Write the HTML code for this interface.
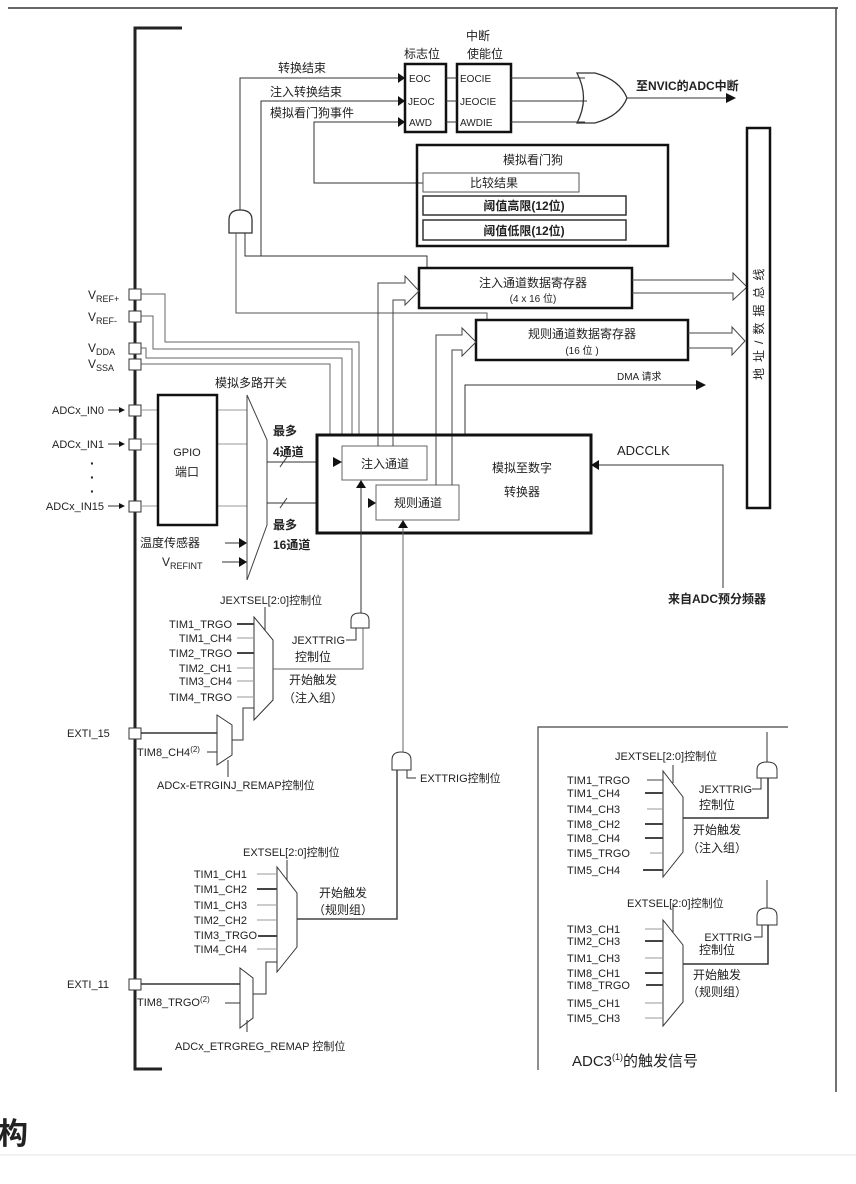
<!DOCTYPE html>
<html><head><meta charset="utf-8"><style>
html,body{margin:0;padding:0;background:#fff;width:856px;height:1184px;overflow:hidden}
svg{display:block}
text{font-family:"Liberation Sans","Noto Sans CJK SC",sans-serif;fill:#222}
</style></head><body>
<svg width="856" height="1184" viewBox="0 0 856 1184" xmlns="http://www.w3.org/2000/svg">
<g fill="none" stroke="#333" stroke-width="1">
<line x1="8" y1="8" x2="838" y2="8" stroke="#666" stroke-width="2"/>
<line x1="836" y1="8" x2="836" y2="1092" stroke="#444" stroke-width="1.5"/>
<polyline points="182,28 135,28 135,1069 162,1069" stroke="#222" stroke-width="3"/>
<polyline points="788,727 538,727 538,1070" stroke="#444" stroke-width="1.2"/>

<rect x="405" y="64" width="41" height="68" stroke-width="2.5" stroke="#111"/>
<rect x="457" y="64" width="54" height="68" stroke-width="2.5" stroke="#111"/>
<line x1="446" y1="78" x2="457" y2="78"/><line x1="446" y1="101" x2="457" y2="101"/><line x1="446" y1="122" x2="457" y2="122"/>
<line x1="511" y1="78" x2="585" y2="78"/><line x1="511" y1="101" x2="587" y2="101"/><line x1="511" y1="122" x2="585" y2="122"/>
<path d="M577,73 L595,73 Q620,80 627,98 Q620,116 595,123 L577,123 Q590,98 577,73 Z" stroke-width="1.3"/>
<line x1="627" y1="98" x2="728" y2="98"/>
<polyline points="240,210 240,78 398,78"/>
<polyline points="261,256 261,101 398,101"/>
<polyline points="423,183 314,183 314,122 398,122"/>
<path d="M229,233 L229,220 Q229,210 240,210 Q252,210 252,220 L252,233 Z" stroke-width="1.3"/>
<polyline points="245,233 245,256 427,256 427,268"/>
<polyline points="236,233 236,313 487,313 487,320" stroke="#555"/>
<rect x="417" y="145" width="251" height="101" stroke-width="2.5" stroke="#111"/>
<rect x="423" y="173" width="156" height="19" stroke="#555"/>
<rect x="423" y="196" width="203" height="19" stroke-width="1.5" stroke="#333"/>
<rect x="423" y="220" width="203" height="20" stroke-width="1.5" stroke="#333"/>

<rect x="419" y="268" width="213" height="40" stroke-width="2.5" stroke="#111"/>
<rect x="476" y="320" width="212" height="40" stroke-width="2.5" stroke="#111"/>
<polyline points="378,435 378,283 405,283 405,276 419,291 405,305 405,300 393,300 393,435" stroke="#444"/>
<polyline points="436,485 436,335 462,335 462,328 476,342 462,356 462,350 452,350 452,485" stroke="#444"/>
<polyline points="632,280 733,280 733,273 747,287 733,300 733,293 632,293" stroke="#444"/>
<polyline points="688,333 732,333 732,327 745,341 732,355 732,348 688,348" stroke="#444"/>
<polyline points="465,435 465,385 698,385"/>
<rect x="747" y="128" width="23" height="380" stroke-width="2.5" stroke="#111"/>

<g fill="#fff" stroke="#333">
<rect x="129" y="289" width="12" height="11"/><rect x="129" y="311" width="12" height="11"/>
<rect x="129" y="343" width="12" height="11"/><rect x="129" y="359" width="12" height="11"/>
<rect x="129" y="405" width="12" height="11"/><rect x="129" y="439" width="12" height="11"/>
<rect x="129" y="501" width="12" height="11"/>
<rect x="129" y="728" width="12" height="11"/><rect x="129" y="979" width="12" height="11"/>
</g>
<g stroke="#666">
<polyline points="141,294 165,294 165,342 359,342 359,435"/>
<polyline points="141,316 153,316 153,349 352,349 352,435"/>
<polyline points="141,348 146,348 146,358 342,358 342,435"/>
<polyline points="141,364 330,364 330,435"/>
</g>
<g stroke="#999">
<line x1="141" y1="410" x2="158" y2="410"/><line x1="141" y1="444" x2="158" y2="444"/><line x1="141" y1="506" x2="158" y2="506"/>
<line x1="217" y1="410" x2="247" y2="410"/><line x1="217" y1="444" x2="247" y2="444"/><line x1="217" y1="506" x2="247" y2="506"/>
</g>
<line x1="108" y1="410" x2="124" y2="410"/><line x1="108" y1="444" x2="124" y2="444"/><line x1="108" y1="506" x2="124" y2="506"/>
<rect x="158" y="395" width="59" height="130" stroke-width="2.5" stroke="#111"/>
<polygon points="247,395 267,440 267,525 247,580" stroke="#444"/>
<line x1="225" y1="543" x2="240" y2="543"/><line x1="222" y1="562" x2="240" y2="562"/>
<line x1="267" y1="462" x2="334" y2="462"/><line x1="280" y1="467" x2="287" y2="457"/>
<line x1="267" y1="503" x2="369" y2="503"/><line x1="280" y1="508" x2="287" y2="498"/>
<rect x="317" y="435" width="274" height="98" stroke-width="3" stroke="#111" fill="#fff"/>
<rect x="342" y="446" width="85" height="34" stroke="#666" fill="#fff"/>
<rect x="376" y="485" width="83" height="35" stroke="#666" fill="#fff"/>
<line x1="378" y1="436" x2="378" y2="446" stroke="#444"/><line x1="393" y1="436" x2="393" y2="446" stroke="#444"/>
<line x1="436" y1="436" x2="436" y2="485" stroke="#444"/><line x1="452" y1="436" x2="452" y2="485" stroke="#444"/>
<polyline points="598,465 723,465 723,588"/>

<polygon points="254,617 273,640 273,700 254,720"/>
<line x1="265" y1="630" x2="265" y2="607"/>
<g stroke="#444">
<line x1="237" y1="624" x2="254" y2="624" stroke-width="2"/><line x1="237" y1="638" x2="254" y2="638" stroke="#999"/>
<line x1="237" y1="653" x2="254" y2="653" stroke-width="2"/><line x1="237" y1="668" x2="254" y2="668" stroke="#999"/>
<line x1="237" y1="681" x2="254" y2="681" stroke="#999"/><line x1="237" y1="697" x2="254" y2="697" stroke="#999"/>
</g>
<polyline points="273,669 363,669 363,628" stroke="#666"/>
<path d="M351,628 L351,620 Q351,613 360,613 Q369,613 369,620 L369,628 Z"/>
<line x1="361" y1="613" x2="361" y2="486"/>
<polyline points="346,640 356,640 356,628"/>
<polygon points="217,715 232,725 232,755 217,765"/>
<line x1="141" y1="733" x2="217" y2="733" stroke-width="1.5"/>
<line x1="207" y1="752" x2="217" y2="752"/>
<polyline points="232,740 243,740 243,708 254,708"/>
<line x1="228" y1="760" x2="228" y2="777"/>
<path d="M392,770 L392,760 Q392,752 401,752 Q411,752 411,760 L411,770 Z"/>
<line x1="403" y1="752" x2="403" y2="526" stroke="#666"/>
<polyline points="407,770 407,778 416,778"/>
<polyline points="297,919 397,919 397,770" stroke="#444" stroke-width="1.5"/>
<polygon points="277,867 297,893 297,947 277,972"/>
<line x1="287" y1="880" x2="287" y2="860"/>
<g stroke="#444">
<line x1="257" y1="874" x2="277" y2="874" stroke="#999"/><line x1="257" y1="889" x2="277" y2="889" stroke-width="2"/>
<line x1="257" y1="905" x2="277" y2="905" stroke="#999"/><line x1="257" y1="920" x2="277" y2="920" stroke="#999"/>
<line x1="258" y1="936" x2="277" y2="936" stroke-width="2"/><line x1="257" y1="949" x2="277" y2="949" stroke="#999"/>
</g>
<polygon points="240,968 253,978 253,1018 240,1028"/>
<line x1="141" y1="984" x2="240" y2="984" stroke-width="1.5"/>
<line x1="225" y1="1003" x2="240" y2="1003"/>
<polyline points="253,994 266,994 266,962 277,962"/>
<line x1="247" y1="1020" x2="247" y2="1032"/>

<polygon points="663,771 683,797 683,852 663,877"/>
<line x1="673" y1="783" x2="673" y2="765"/>
<g stroke="#444">
<line x1="647" y1="780" x2="663" y2="780"/><line x1="645" y1="793" x2="663" y2="793" stroke-width="2"/>
<line x1="647" y1="809" x2="663" y2="809" stroke="#999"/><line x1="645" y1="824" x2="663" y2="824" stroke-width="2"/>
<line x1="645" y1="838" x2="663" y2="838" stroke-width="2"/><line x1="650" y1="853" x2="663" y2="853" stroke="#999"/>
<line x1="643" y1="870" x2="663" y2="870" stroke-width="2"/>
</g>
<polyline points="683,818 768,818 768,778" stroke-width="1.5"/>
<path d="M757,778 L757,770 Q757,762 767,762 Q777,762 777,770 L777,778 Z"/>
<line x1="767" y1="762" x2="767" y2="732"/>
<polyline points="752,789 761,789 761,778"/>
<polygon points="663,920 683,945 683,1002 663,1026"/>
<line x1="673" y1="932" x2="673" y2="903"/>
<g stroke="#444">
<line x1="645" y1="929" x2="663" y2="929" stroke="#999"/><line x1="645" y1="941" x2="663" y2="941" stroke-width="2"/>
<line x1="645" y1="958" x2="663" y2="958" stroke="#999"/><line x1="645" y1="973" x2="663" y2="973" stroke-width="2"/>
<line x1="646" y1="985" x2="663" y2="985" stroke-width="2"/><line x1="645" y1="1003" x2="663" y2="1003" stroke="#999"/>
<line x1="645" y1="1018" x2="663" y2="1018" stroke="#999"/>
</g>
<polyline points="683,964 768,964 768,925" stroke-width="1.5"/>
<path d="M757,925 L757,916 Q757,908 767,908 Q777,908 777,916 L777,925 Z"/>
<line x1="767" y1="908" x2="767" y2="880"/>
<polyline points="754,937 762,937 762,925"/>
<line x1="0" y1="1155" x2="856" y2="1155" stroke="#e4e4e4"/>
</g>

<g fill="#111">
<polygon points="398,73 405,78 398,83"/><polygon points="398,96 405,101 398,106"/><polygon points="398,117 405,122 398,127"/>
<polygon points="726,93 736,98 726,103"/>
<polygon points="696,380 706,385 696,390"/>
<polygon points="119,407 125,410 119,413"/><polygon points="119,441 125,444 119,447"/><polygon points="119,503 125,506 119,509"/>
<polygon points="239,538 247,543 239,548"/><polygon points="239,557 247,562 239,567"/>
<polygon points="333,457 342,462 333,467"/><polygon points="368,498 376,503 368,508"/>
<polygon points="356,488 361,480 366,488"/><polygon points="398,528 403,520 408,528"/>
<polygon points="599,460 591,465 599,470"/>
</g>

<g font-size="12">
<text x="478" y="40" text-anchor="middle">中断</text>
<text x="422" y="58" text-anchor="middle">标志位</text>
<text x="485" y="58" text-anchor="middle">使能位</text>
<text x="278" y="72">转换结束</text>
<text x="270" y="96">注入转换结束</text>
<text x="270" y="117">模拟看门狗事件</text>
<g font-size="10"><text x="409" y="82">EOC</text><text x="408" y="105">JEOC</text><text x="409" y="126">AWD</text>
<text x="460" y="82">EOCIE</text><text x="460" y="105">JEOCIE</text><text x="460" y="126">AWDIE</text></g>
<text x="636" y="90" font-weight="bold">至NVIC的ADC中断</text>
<text x="533" y="164" text-anchor="middle">模拟看门狗</text>
<text x="470" y="187">比较结果</text>
<text x="524" y="210" text-anchor="middle" font-weight="bold">阈值高限(12位)</text>
<text x="524" y="235" text-anchor="middle" font-weight="bold">阈值低限(12位)</text>
<text x="533" y="287" text-anchor="middle">注入通道数据寄存器</text>
<text x="533" y="302" text-anchor="middle" font-size="10">(4 x 16 位)</text>
<text x="582" y="338" text-anchor="middle">规则通道数据寄存器</text>
<text x="582" y="354" text-anchor="middle" font-size="10">(16 位 )</text>
<text x="617" y="380" font-size="10">DMA 请求</text>
<text x="0" y="0" transform="translate(763,380) rotate(-90)" letter-spacing="6">地址/数据总线</text>
<text x="88" y="299">V<tspan font-size="9" dy="3">REF+</tspan></text>
<text x="88" y="321">V<tspan font-size="9" dy="3">REF-</tspan></text>
<text x="88" y="352">V<tspan font-size="9" dy="3">DDA</tspan></text>
<text x="88" y="368">V<tspan font-size="9" dy="3">SSA</tspan></text>
<text x="215" y="387">模拟多路开关</text>
<text x="104" y="414" text-anchor="end" font-size="11">ADCx_IN0</text>
<text x="104" y="448" text-anchor="end" font-size="11">ADCx_IN1</text>
<text x="104" y="510" text-anchor="end" font-size="11">ADCx_IN15</text>
<text x="90" y="468" font-size="14" font-weight="bold">·</text><text x="90" y="482" font-size="14" font-weight="bold">·</text><text x="90" y="496" font-size="14" font-weight="bold">·</text>
<text x="187" y="456" text-anchor="middle" font-size="11">GPIO</text>
<text x="187" y="476" text-anchor="middle">端口</text>
<text x="140" y="547">温度传感器</text>
<text x="162" y="566">V<tspan font-size="9" dy="3">REFINT</tspan></text>
<text x="273" y="435" font-weight="bold">最多</text>
<text x="273" y="456" font-weight="bold">4通道</text>
<text x="273" y="529" font-weight="bold">最多</text>
<text x="273" y="549" font-weight="bold">16通道</text>
<text x="385" y="468" text-anchor="middle">注入通道</text>
<text x="418" y="507" text-anchor="middle">规则通道</text>
<text x="522" y="472" text-anchor="middle">模拟至数字</text>
<text x="522" y="496" text-anchor="middle">转换器</text>
<text x="617" y="455" font-size="13">ADCCLK</text>
<text x="668" y="603" font-weight="bold">来自ADC预分频器</text>
<g font-size="11">
<text x="220" y="604">JEXTSEL[2:0]控制位</text>
<text x="232" y="628" text-anchor="end">TIM1_TRGO</text><text x="232" y="642" text-anchor="end">TIM1_CH4</text>
<text x="232" y="657" text-anchor="end">TIM2_TRGO</text><text x="232" y="672" text-anchor="end">TIM2_CH1</text>
<text x="232" y="685" text-anchor="end">TIM3_CH4</text><text x="232" y="701" text-anchor="end">TIM4_TRGO</text>
<text x="345" y="644" text-anchor="end">JEXTTRIG</text>
<text x="313" y="661" text-anchor="middle" font-size="12">控制位</text>
<text x="313" y="684" text-anchor="middle" font-size="12">开始触发</text>
<text x="313" y="702" text-anchor="middle" font-size="12">（注入组）</text>
<text x="67" y="737">EXTI_15</text>
<text x="137" y="756">TIM8_CH4<tspan font-size="8" dy="-4">(2)</tspan></text>
<text x="157" y="789">ADCx-ETRGINJ_REMAP控制位</text>
<text x="420" y="782">EXTTRIG控制位</text>
<text x="243" y="856">EXTSEL[2:0]控制位</text>
<text x="247" y="878" text-anchor="end">TIM1_CH1</text><text x="247" y="893" text-anchor="end">TIM1_CH2</text>
<text x="247" y="909" text-anchor="end">TIM1_CH3</text><text x="247" y="924" text-anchor="end">TIM2_CH2</text>
<text x="257" y="939" text-anchor="end">TIM3_TRGO</text><text x="247" y="953" text-anchor="end">TIM4_CH4</text>
<text x="343" y="897" text-anchor="middle" font-size="12">开始触发</text>
<text x="343" y="914" text-anchor="middle" font-size="12">（规则组）</text>
<text x="67" y="988">EXTI_11</text>
<text x="137" y="1006">TIM8_TRGO<tspan font-size="8" dy="-4">(2)</tspan></text>
<text x="175" y="1050">ADCx_ETRGREG_REMAP 控制位</text>
<text x="615" y="760">JEXTSEL[2:0]控制位</text>
<text x="567" y="784">TIM1_TRGO</text><text x="567" y="797">TIM1_CH4</text><text x="567" y="813">TIM4_CH3</text>
<text x="567" y="828">TIM8_CH2</text><text x="567" y="842">TIM8_CH4</text><text x="567" y="857">TIM5_TRGO</text><text x="567" y="874">TIM5_CH4</text>
<text x="752" y="793" text-anchor="end">JEXTTRIG</text>
<text x="717" y="809" text-anchor="middle" font-size="12">控制位</text>
<text x="717" y="834" text-anchor="middle" font-size="12">开始触发</text>
<text x="717" y="852" text-anchor="middle" font-size="12">（注入组）</text>
<text x="627" y="907">EXTSEL[2:0]控制位</text>
<text x="567" y="933">TIM3_CH1</text><text x="567" y="945">TIM2_CH3</text><text x="567" y="962">TIM1_CH3</text>
<text x="567" y="977">TIM8_CH1</text><text x="567" y="989">TIM8_TRGO</text><text x="567" y="1007">TIM5_CH1</text><text x="567" y="1022">TIM5_CH3</text>
<text x="752" y="941" text-anchor="end">EXTTRIG</text>
<text x="717" y="954" text-anchor="middle" font-size="12">控制位</text>
<text x="717" y="979" text-anchor="middle" font-size="12">开始触发</text>
<text x="717" y="996" text-anchor="middle" font-size="12">（规则组）</text>
</g>
<text x="572" y="1066" font-size="15">ADC3<tspan font-size="9" dy="-6">(1)</tspan><tspan dy="6">的触发信号</tspan></text>
<text x="-2" y="1144" font-size="30" font-weight="bold" fill="#222">构</text>
</g>
</svg>
</body></html>
